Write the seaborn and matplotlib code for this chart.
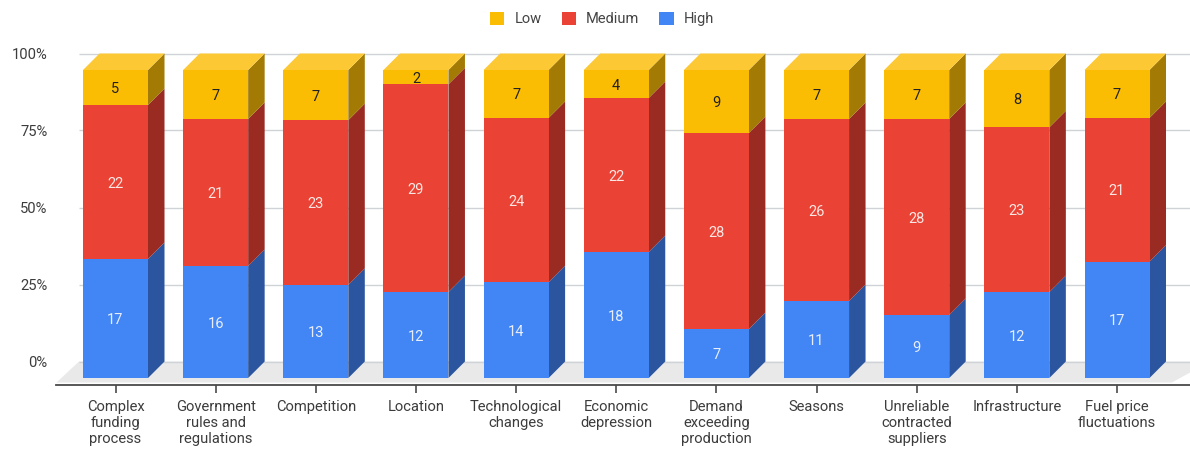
import matplotlib
matplotlib.use("Agg")
import matplotlib.pyplot as plt
from matplotlib.patches import Polygon, Patch
from matplotlib.ticker import FixedLocator, FixedFormatter
import numpy as np
import seaborn as sns

categories = [
    "Complex\nfunding\nprocess", "Government\nrules and\nregulations", "Competition",
    "Location", "Technological\nchanges", "Economic\ndepression",
    "Demand\nexceeding\nproduction", "Seasons", "Unreliable\ncontracted\nsuppliers",
    "Infrastructure", "Fuel price\nfluctuations",
]
high = [17, 16, 13, 12, 14, 18, 7, 11, 9, 12, 17]
medium = [22, 21, 23, 29, 24, 22, 28, 26, 28, 23, 21]
low = [5, 7, 7, 2, 7, 4, 9, 7, 7, 8, 7]
percent_ticks = [0, 25, 50, 75, 100]

FRONT = {"High": "#4285F4", "Medium": "#EA4335", "Low": "#FBBC04"}
SIDE = {"High": "#2B559F", "Medium": "#992B23", "Low": "#A37A03"}
TOP = {"Low": "#FCC934"}
TEXT = {"High": "#E8EEFB", "Medium": "#FBE6E3", "Low": "#222222"}

W, H = 1190, 450
# pixel geometry of the plot box and of the oblique projection
LEFT, RIGHT, AX_TOP, AX_BOTTOM = 56, 1190, 53, 385
Y0_PX, PX_PER_PCT = 378.0, 3.08
X0_PX, PX_PER_CAT = 115.5, 100.15
DEPTH_PX = 16.5
BAR_W = 65 / PX_PER_CAT
dx, dy = DEPTH_PX / PX_PER_CAT, DEPTH_PX / PX_PER_PCT

sns.set_style("white")
plt.rcParams["font.family"] = ["Roboto", "DejaVu Sans"]

fig = plt.figure(figsize=(W / 100, H / 100), dpi=100)
ax = fig.add_axes([LEFT / W, 1 - AX_BOTTOM / H, (RIGHT - LEFT) / W, (AX_BOTTOM - AX_TOP) / H])

counts = {"High": np.array(high, float), "Medium": np.array(medium, float), "Low": np.array(low, float)}
totals = sum(counts.values())
x = np.arange(len(categories))

# floor plane and back-wall gridlines
ax.set_xlim((LEFT - X0_PX) / PX_PER_CAT, (RIGHT - X0_PX) / PX_PER_CAT)
ax.set_ylim((Y0_PX - AX_BOTTOM) / PX_PER_PCT, (Y0_PX - AX_TOP) / PX_PER_PCT)
xl, xr = ax.get_xlim()
floor_front = (Y0_PX - 382.5) / PX_PER_PCT
ax.add_patch(Polygon(
    [(xl + 0.005, floor_front), (xl + 0.23, dy), (xr + 0.2, dy), (xr - 0.18, floor_front)],
    closed=True, fc="#E9E9E9", ec="none", zorder=0.5))
ax.hlines([p + dy for p in percent_ticks], xl + 0.23, xr, color="#CFD2D6", lw=1.0, zorder=0.6)

# front faces are stacked bars; each segment gets a sheared side face beside it
bottom = np.zeros(len(categories))
for name in ["High", "Medium", "Low"]:
    pct = counts[name] / totals * 100
    sns.barplot(x=x, y=pct, bottom=bottom, color=FRONT[name], saturation=1, width=BAR_W,
                order=list(x), linewidth=0, ax=ax, zorder=3)
    for xi, b, p, c in zip(x, bottom, pct, counts[name]):
        r = xi + BAR_W / 2
        ax.add_patch(Polygon([(r, b), (r, b + p), (r + dx, b + p + dy), (r + dx, b + dy)],
                             closed=True, fc=SIDE[name], ec="none", zorder=2))
        ax.text(xi, b + p / 2 - 0.5, f"{int(c)}", ha="center", va="center", fontsize=10.5,
                color=TEXT[name], zorder=4)
    bottom = bottom + pct

# top cap of each column
for xi, t in zip(x, bottom):
    l, r = xi - BAR_W / 2, xi + BAR_W / 2
    ax.add_patch(Polygon([(l, t), (r, t), (r + dx, t + dy), (l + dx, t + dy)],
                         closed=True, fc=TOP["Low"], ec="none", zorder=2.5))

ax.set_xlim(xl, xr)
ax.set_ylim((Y0_PX - AX_BOTTOM) / PX_PER_PCT, (Y0_PX - AX_TOP) / PX_PER_PCT)

for s in ["top", "left", "right"]:
    ax.spines[s].set_visible(False)
ax.spines["bottom"].set_color("#4A4A4A")
ax.spines["bottom"].set_linewidth(1.3)

ax.set_xlabel("")
ax.set_ylabel("")
ax.xaxis.set_major_locator(FixedLocator(list(x)))
ax.xaxis.set_major_formatter(FixedFormatter(categories))
ax.tick_params(axis="x", length=6, width=1.2, color="#4A4A4A", pad=5, labelsize=10.6,
               labelcolor="#3C3C3C", bottom=True)
for t in ax.get_xticklabels():
    t.set_linespacing(1.18)

ax.yaxis.set_major_locator(FixedLocator([p + dy for p in percent_ticks]))
ax.yaxis.set_major_formatter(FixedFormatter([f"{p}%" for p in percent_ticks]))
ax.tick_params(axis="y", length=0, pad=6, labelsize=10.6, labelcolor="#3C3C3C", left=True)

handles = [Patch(fc=FRONT[k], ec="none") for k in ["Low", "Medium", "High"]]
fig.legend(handles, ["Low", "Medium", "High"], loc="center", bbox_to_anchor=(602 / W, 1 - 19 / H),
           ncol=3, frameon=False, fontsize=10.5, labelcolor="#444444", handlelength=1.0, handleheight=1.0,
           handletextpad=0.68, columnspacing=1.37)

fig.savefig("out.png", dpi=100)
